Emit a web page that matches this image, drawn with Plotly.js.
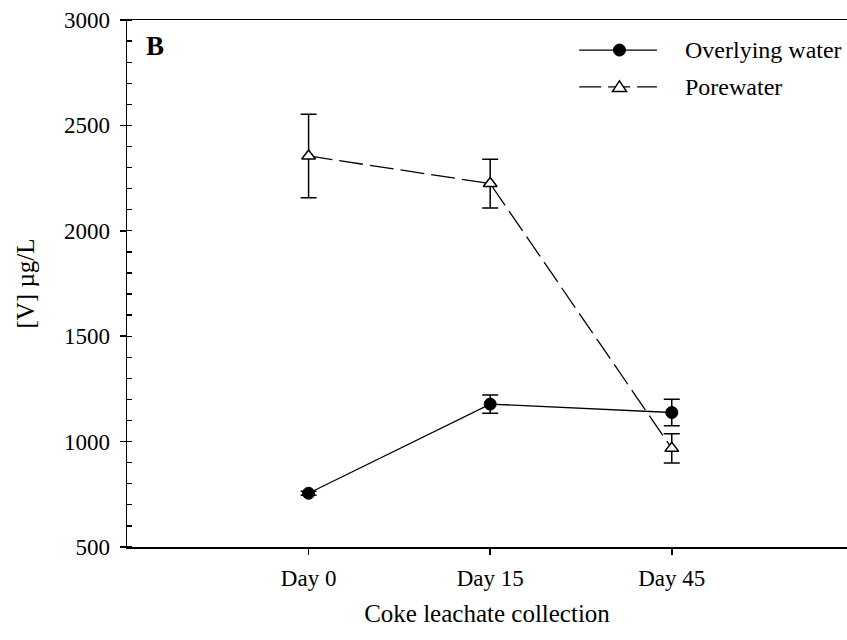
<!DOCTYPE html>
<html>
<head>
<meta charset="utf-8">
<script src="https://cdn.plot.ly/plotly-3.0.1.min.js"></script>
<style>
html,body{margin:0;padding:0;overflow:hidden;background:#fff;}
#chart{width:847px;height:640px;}
</style>
</head>
<body>
<div id="chart"></div>
<script>
// Data
const categories = ["Day 0", "Day 15", "Day 45"];
const overlyingWater = [755, 1178, 1138];
const overlyingErr = [10, 43, 63];
const porewater = [2355, 2224, 968];
const porewaterErr = [198, 116, 69];
const seriesNames = ["Overlying water", "Porewater"];
const yTickVals = [500, 1000, 1500, 2000, 2500, 3000];

const FONT = "'Liberation Serif', 'Times New Roman', serif";
const xIdx = categories.map((c, i) => i);

const traces = [
  {
    x: xIdx, y: overlyingWater, name: seriesNames[0], type: "scatter", mode: "lines+markers",
    line: {color: "#000", width: 1.3},
    marker: {symbol: "circle", size: 12, color: "#000", line: {color: "#000", width: 1}},
    error_y: {type: "data", array: overlyingErr, visible: true, color: "#000", thickness: 1.5, width: 8},
    showlegend: false
  },
  {
    x: xIdx, y: porewater, name: seriesNames[1], type: "scatter", mode: "lines+markers",
    line: {color: "#000", width: 1.3, dash: "24px,7px"},
    marker: {symbol: "triangle-up", size: 12, color: "#fff", line: {color: "#000", width: 1.5}},
    error_y: {type: "data", array: porewaterErr, visible: true, color: "#000", thickness: 1.5, width: 8},
    showlegend: false
  }
];

// custom legend (paper coordinates of plot area)
const legY = [0.943, 0.873];
const shapes = [
  {type: "line", xref: "paper", yref: "paper", x0: 0.628, x1: 0.736, y0: legY[0], y1: legY[0], line: {color: "#000", width: 1.3}},
  {type: "circle", xref: "paper", yref: "paper", xsizemode: "pixel", ysizemode: "pixel", xanchor: 0.684, yanchor: legY[0],
   x0: -6, x1: 6, y0: -6, y1: 6, fillcolor: "#000", line: {color: "#000", width: 1}},
  {type: "line", xref: "paper", yref: "paper", x0: 0.628, x1: 0.736, y0: legY[1], y1: legY[1], line: {color: "#000", width: 1.3, dash: "22px,7px"}},
  {type: "path", xref: "paper", yref: "paper", xsizemode: "pixel", ysizemode: "pixel", xanchor: 0.684, yanchor: legY[1],
   path: "M-7,-4.5 L7,-4.5 L0,6 Z", fillcolor: "#fff", line: {color: "#000", width: 1.5}}
];

const annotations = [
  {text: "<b>B</b>", xref: "paper", yref: "paper", x: 0.024, y: 0.95, xanchor: "left", yanchor: "middle", showarrow: false,
   font: {family: FONT, size: 27, color: "#000"}},
  {text: seriesNames[0], xref: "paper", yref: "paper", x: 0.772, y: legY[0], xanchor: "left", yanchor: "middle", showarrow: false,
   font: {family: FONT, size: 24, color: "#000"}},
  {text: seriesNames[1], xref: "paper", yref: "paper", x: 0.772, y: legY[1], xanchor: "left", yanchor: "middle", showarrow: false,
   font: {family: FONT, size: 24, color: "#000"}}
];

const layout = {
  width: 847, height: 640,
  margin: {l: 127, r: 0, t: 20, b: 93},
  paper_bgcolor: "#fff", plot_bgcolor: "#fff",
  font: {family: FONT, size: 23, color: "#000"},
  showlegend: false,
  xaxis: {
    range: [-1.0, 2.965],
    tickvals: xIdx, ticktext: categories,
    showgrid: false, zeroline: false,
    showline: true, linecolor: "#000", linewidth: 1.5, mirror: true,
    ticks: "outside", ticklen: 6, tickwidth: 1.5, tickcolor: "#000",
    ticklabelstandoff: 4,
    tickfont: {family: FONT, size: 23, color: "#000"},
    title: {text: "Coke leachate collection", font: {family: FONT, size: 25, color: "#000"}, standoff: 14}
  },
  yaxis: {
    range: [500, 3000],
    tickvals: yTickVals,
    showgrid: false, zeroline: false,
    showline: true, linecolor: "#000", linewidth: 1.5, mirror: false,
    ticks: "outside", ticklen: 6, tickwidth: 1.5, tickcolor: "#000",
    ticklabelstandoff: 5,
    minor: {ticks: "inside", dtick: 100, tick0: 500, ticklen: 5, tickwidth: 1.3, tickcolor: "#000", showgrid: false},
    tickfont: {family: FONT, size: 23, color: "#000"},
    title: {text: "[V] µg/L", font: {family: FONT, size: 25, color: "#000"}, standoff: 22}
  },
  shapes: shapes,
  annotations: annotations
};

Plotly.newPlot("chart", traces, layout, {staticPlot: true, displayModeBar: false});
</script>
</body>
</html>
